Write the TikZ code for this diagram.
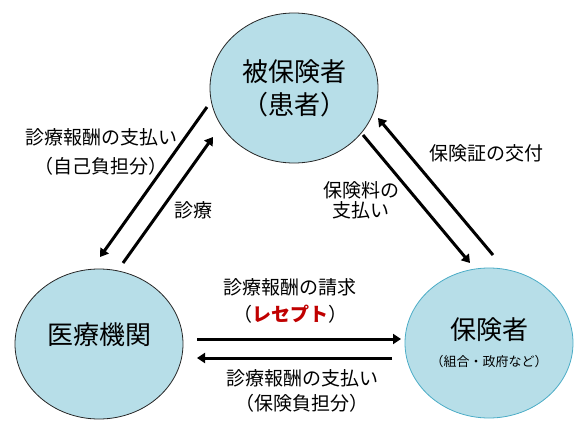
\documentclass[tikz,border=0pt]{standalone}
\usepackage{fontspec}
\setmainfont{Noto Sans CJK JP}
\usepackage{tikz}
\usetikzlibrary{shapes.geometric}
\usetikzlibrary{arrows.meta}
\usepackage{xcolor}
\definecolor{hk_fill}{HTML}{B7DEE8}
\definecolor{hk_teal}{HTML}{4BACC6}
\definecolor{hk_red}{HTML}{C00000}
\tikzset{
  hk_node/.style = {ellipse, draw=black!85, fill=hk_fill, line width=0.8pt,
    minimum width=168pt, minimum height=150pt, inner sep=0pt, align=center,
    font=\fontsize{26}{33}\selectfont},% noeud principal, cercle bleu
  hk_lbl/.style = {align=center, inner sep=0pt,
    font=\fontsize{19}{#1}\selectfont},% etiquette de fleche
  hk_lbl/.default = 27,
  hk_arr/.style = {-{Triangle[length=8pt,width=10pt]}, line width=3pt}% fleche epaisse
}

\begin{document}
\begin{tikzpicture}[x=1pt,y=-1pt]
\useasboundingbox (0,0) rectangle (578,429);
\node [hk_node] (patient) at (294,88) {被保険者\\（患者）};
\node [hk_node, text height=23pt, text depth=23pt] (clinic) at (99,344) {医療機関};
\node [hk_node, draw=hk_teal] (insurer) at (489,343)
  {保険者\\[-6pt]{\fontsize{13}{16}\selectfont （組合・政府など）}};

\coordinate (pat_a) at (207,107);
\coordinate (cli_a) at (100,257);
\coordinate (cli_b) at (123,263);
\coordinate (pat_b) at (213,137);
\coordinate (pat_c) at (363,135);
\coordinate (ins_c) at (470,263);
\coordinate (ins_d) at (493,255);
\coordinate (pat_d) at (378,118);
\coordinate (cli_e) at (197,339);
\coordinate (ins_e) at (401,339);
\coordinate (ins_f) at (392,358);
\coordinate (cli_f) at (197,358);

\draw [hk_arr] (pat_a) -- (cli_a);
\draw [hk_arr] (cli_b) -- (pat_b);
\draw [hk_arr] (pat_c) -- (ins_c);
\draw [hk_arr] (ins_d) -- (pat_d);
\draw [hk_arr] (cli_e) -- (ins_e);
\draw [hk_arr] (ins_f) -- (cli_f);

\node [hk_lbl=29] (l_copay) at (101,152) {診療報酬の支払い\\（自己負担分）};
\node [hk_lbl] (l_care) at (193,210) {診療};
\node [hk_lbl=20] (l_premium) at (361,200) {保険料の\\支払い};
\node [hk_lbl] (l_card) at (486,153) {保険証の交付};
\node [hk_lbl=27] (l_claim) at (290,301)
  {診療報酬の請求\\（\textcolor{hk_red}{\bfseries レセプト}）};
\node [hk_lbl=25] (l_pay) at (302,391) {診療報酬の支払い\\（保険負担分）};
\end{tikzpicture}
\end{document}
